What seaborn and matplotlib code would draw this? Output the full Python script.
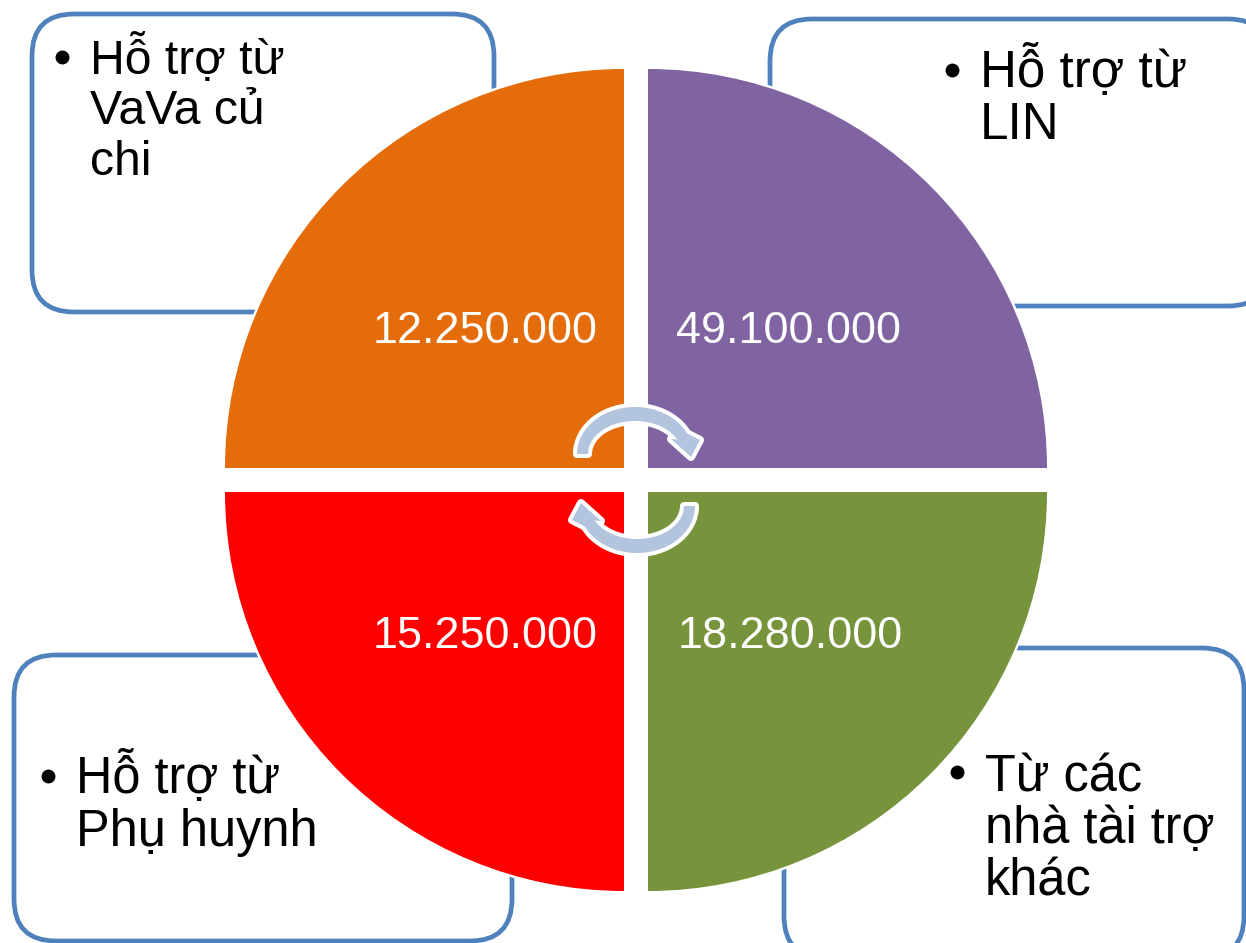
import numpy as np
import matplotlib
matplotlib.use("Agg")
import matplotlib.pyplot as plt
from matplotlib.patches import FancyBboxPatch, Wedge, Polygon
import seaborn as sns

# --- DATA ---
values = ["12.250.000", "49.100.000", "18.280.000", "15.250.000"]
colors = ["#E46C0A", "#8064A2", "#77933C", "#FF0000"]
labels = [
    ["Hỗ trợ từ", "VaVa củ", "chi"],
    ["Hỗ trợ từ", "LIN"],
    ["Từ các", "nhà tài trợ", "khác"],
    ["Hỗ trợ từ", "Phụ huynh"],
]

# --- LAYOUT (pixels of the picture) ---
wedge_xy = [(624, 468), (648, 468), (648, 492), (624, 492)]
wedge_theta = [(180, 270), (270, 360), (0, 90), (90, 180)]
radius = 399
value_xy = [(373, 343), (676, 343), (678, 648), (373, 648)]
boxes = [(32, 14, 462, 298), (770, 19, 500, 287), (784, 648, 460, 310), (14, 655, 498, 286)]
bullet_xy = [(62, 57), (952, 70), (957, 772), (48, 776)]
text_x = [90, 980, 985, 76]
text_size = [34.7, 36.8, 36.4, 36.4]
baselines = [[74, 124, 175], [87, 139], [791, 843, 895], [793, 846]]

sns.set_theme(style="white")
plt.rcParams['font.family'] = ['Liberation Sans', 'DejaVu Sans']

fig = plt.figure(figsize=(12.46, 9.43), dpi=100)
ax = fig.add_axes([0, 0, 1, 1])
ax.set_xlim(0, 1246)
ax.set_ylim(943, 0)
ax.axis('off')

# rounded boxes behind the circle
for x, y, w, h in boxes:
    ax.add_patch(FancyBboxPatch((x, y), w, h, boxstyle="round,pad=0,rounding_size=42",
                                fc='white', ec='#4F81BD', lw=3.4, zorder=1))

# quadrants, with a thin white halo underneath
for xy, (t1, t2), c in zip(wedge_xy, wedge_theta, colors):
    ax.add_patch(Wedge(xy, radius, t1, t2, fc='white', ec='white', lw=3.5, zorder=2))
    ax.add_patch(Wedge(xy, radius, t1, t2, fc=c, ec='none', zorder=3))

for (x, y), v in zip(value_xy, values):
    ax.text(x, y, v, color='white', fontsize=32.4, ha='left', va='baseline', zorder=4)

# bullets and labels
for (bx, by), tx, fs, lines, ys in zip(bullet_xy, text_x, text_size, labels, baselines):
    ax.scatter([bx], [by], s=100, c='black', linewidths=0, zorder=4)
    for line, y in zip(lines, ys):
        ax.text(tx, y, line, color='black', fontsize=fs, ha='left', va='baseline', zorder=4)


# --- CIRCULAR ARROWS ---
def arrow_points(cx, cy, flip):
    # outer edge of the band, then the head, then the inner edge back
    t = np.radians(np.linspace(180, 334, 60))
    outer = np.c_[cx + 58 * np.cos(t), cy + 47 * np.sin(t)]
    inner = np.c_[cx + 47 * np.cos(t), cy + 33 * np.sin(t)]
    head = np.array([[cx + 65, cy - 14], [cx + 56, cy + 3], [cx + 36, cy - 15]])
    pts = np.vstack([outer, head, inner[::-1]])
    if flip:
        pts = 2 * np.array([636, 480]) - pts
    return pts


cx, cy = 635, 454
for flip in [False, True]:
    pts = arrow_points(cx, cy, flip)
    ax.add_patch(Polygon(pts, closed=True, fc='white', ec='white', lw=5.8,
                         joinstyle='round', zorder=5))
    ax.add_patch(Polygon(pts, closed=True, fc='#B3C4DE', ec='none', zorder=6))

fig.savefig("out.png", dpi=100)
